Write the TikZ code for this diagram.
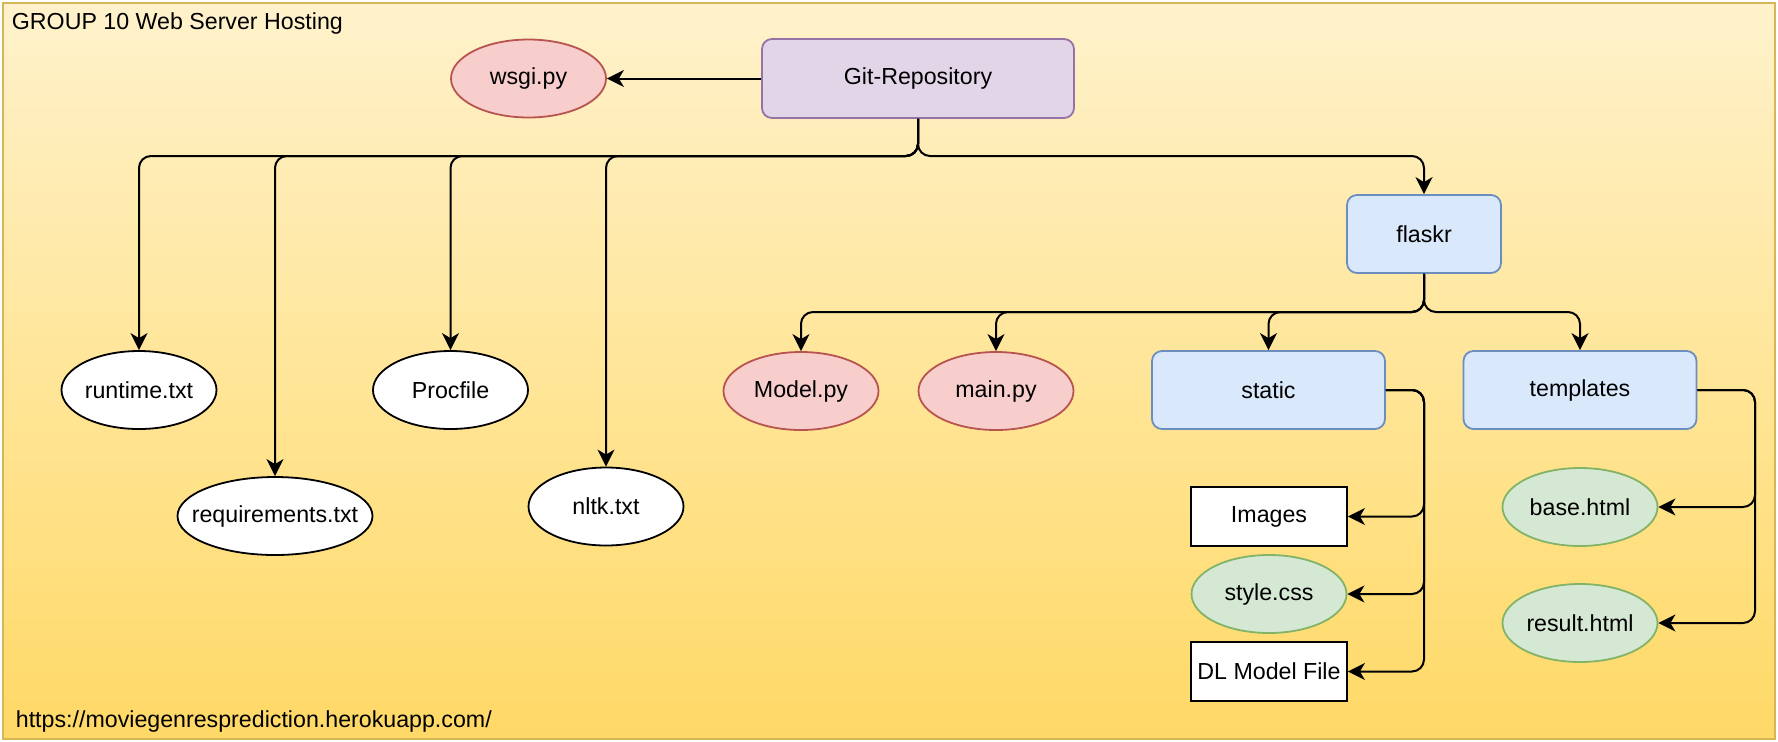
\documentclass[tikz,border=0pt]{standalone}
\usepackage{fontspec}
\setmainfont{Liberation Sans}
\usetikzlibrary{arrows.meta,shapes.geometric}
\definecolor{purplefill}{HTML}{E1D5E7}
\definecolor{purpleline}{HTML}{9673A6}
\definecolor{redfill}{HTML}{F8CECC}
\definecolor{redline}{HTML}{B85450}
\definecolor{bluefill}{HTML}{DAE8FC}
\definecolor{blueline}{HTML}{6C8EBF}
\definecolor{greenfill}{HTML}{D5E8D4}
\definecolor{greenline}{HTML}{82B366}
\definecolor{boxline}{HTML}{D6B656}
\definecolor{boxtop}{HTML}{FFF2CC}
\definecolor{boxbottom}{HTML}{FFD966}
\newcommand{\fname}[1]{\makebox[0pt]{#1}}
\begin{document}
\begin{tikzpicture}[x=0.5pt,y=0.5pt,yscale=-1,xscale=1,
  font=\fontsize{11.6pt}{14pt}\selectfont,
  folder/.style={draw=blueline,fill=bluefill,line width=0.9pt,rounded corners=5pt,inner sep=0pt,minimum height=39pt},
  pyfile/.style={ellipse,draw=redline,fill=redfill,line width=0.9pt,inner sep=0pt,minimum width=77.5pt,minimum height=39pt},
  webfile/.style={ellipse,draw=greenline,fill=greenfill,line width=0.9pt,inner sep=0pt,minimum width=77.5pt,minimum height=39pt},
  txtfile/.style={ellipse,draw=black,fill=white,line width=0.9pt,inner sep=0pt,minimum width=77.5pt,minimum height=39pt},
  plainbox/.style={rectangle,draw=black,fill=white,line width=0.9pt,inner sep=0pt,minimum width=78pt,minimum height=29.5pt},
  link/.style={draw=black,line width=1pt,rounded corners=6pt,-{Stealth[length=8.5pt,width=8.5pt,inset=2.5pt]}}]
\useasboundingbox (0,0) rectangle (1778,741);

%Shape: Container
\shade[top color=boxtop,bottom color=boxbottom] (2.5,2.5) rectangle (1775,739);
\draw[boxline,line width=1pt] (2.5,2.5) rectangle (1775,739);

% Text Node
\node[anchor=base west,inner sep=0pt] (title) at (11.5,29.5) {GROUP 10 Web Server Hosting};
% Text Node
\node[anchor=base west,inner sep=0pt] (url) at (15.5,727.5) {https://moviegenresprediction.herokuapp.com/};

%Flowchart: Process
\node[draw=purpleline,fill=purplefill,line width=0.9pt,rounded corners=5pt,inner sep=0pt,minimum width=156pt,minimum height=39.5pt] (git) at (918,78.5) {Git-Repository};
%Shape: Ellipse
\node[pyfile] (wsgi) at (528.5,78.5) {\fname{wsgi.py}};
%Flowchart: Process
\node[folder,minimum width=77pt] (flaskr) at (1424,234) {flaskr};

%Shape: Ellipse
\node[txtfile] (runtime) at (139,390) {\fname{runtime.txt}};
\node[txtfile] (procfile) at (450.5,390) {\fname{Procfile}};
\node[txtfile,minimum width=97.5pt] (requirements) at (275,516) {\fname{requirements.txt}};
\node[txtfile] (nltk) at (606,506.5) {\fname{nltk.txt}};
\node[pyfile] (model) at (801,391) {\fname{Model.py}};
\node[pyfile] (mainpy) at (996,391) {\fname{main.py}};

%Flowchart: Process
\node[folder,minimum width=116.5pt] (static) at (1268.5,390) {static};
\node[folder,minimum width=116.5pt] (templates) at (1580,390) {templates};

%Flowchart: Process
\node[plainbox] (images) at (1269,516.5) {Images};
%Shape: Ellipse
\node[webfile] (stylecss) at (1269,594) {\fname{style.css}};
%Flowchart: Process
\node[plainbox] (dlmodel) at (1269,671.5) {DL Model File};
%Shape: Ellipse
\node[webfile] (base) at (1580,507) {\fname{base.html}};
\node[webfile] (result) at (1580,623) {\fname{result.html}};

\coordinate (gitbus) at (918,156);
\coordinate (flaskbus) at (1424,312);
\coordinate (staticrail) at (1424,390);
\coordinate (templrail) at (1755,390);

%Straight Lines
\draw[link] (git.west) -- (wsgi.east);
\foreach \leaf in {runtime,requirements,procfile,nltk,flaskr}
  \draw[link] (git.south) -- (gitbus) -| (\leaf.north);
\foreach \leaf in {model,mainpy,static,templates}
  \draw[link] (flaskr.south) -- (flaskbus) -| (\leaf.north);
\foreach \leaf in {images,stylecss,dlmodel}
  \draw[link] (static.east) -- (staticrail) |- (\leaf.east);
\foreach \leaf in {base,result}
  \draw[link] (templates.east) -- (templrail) |- (\leaf.east);

\end{tikzpicture}
\end{document}
